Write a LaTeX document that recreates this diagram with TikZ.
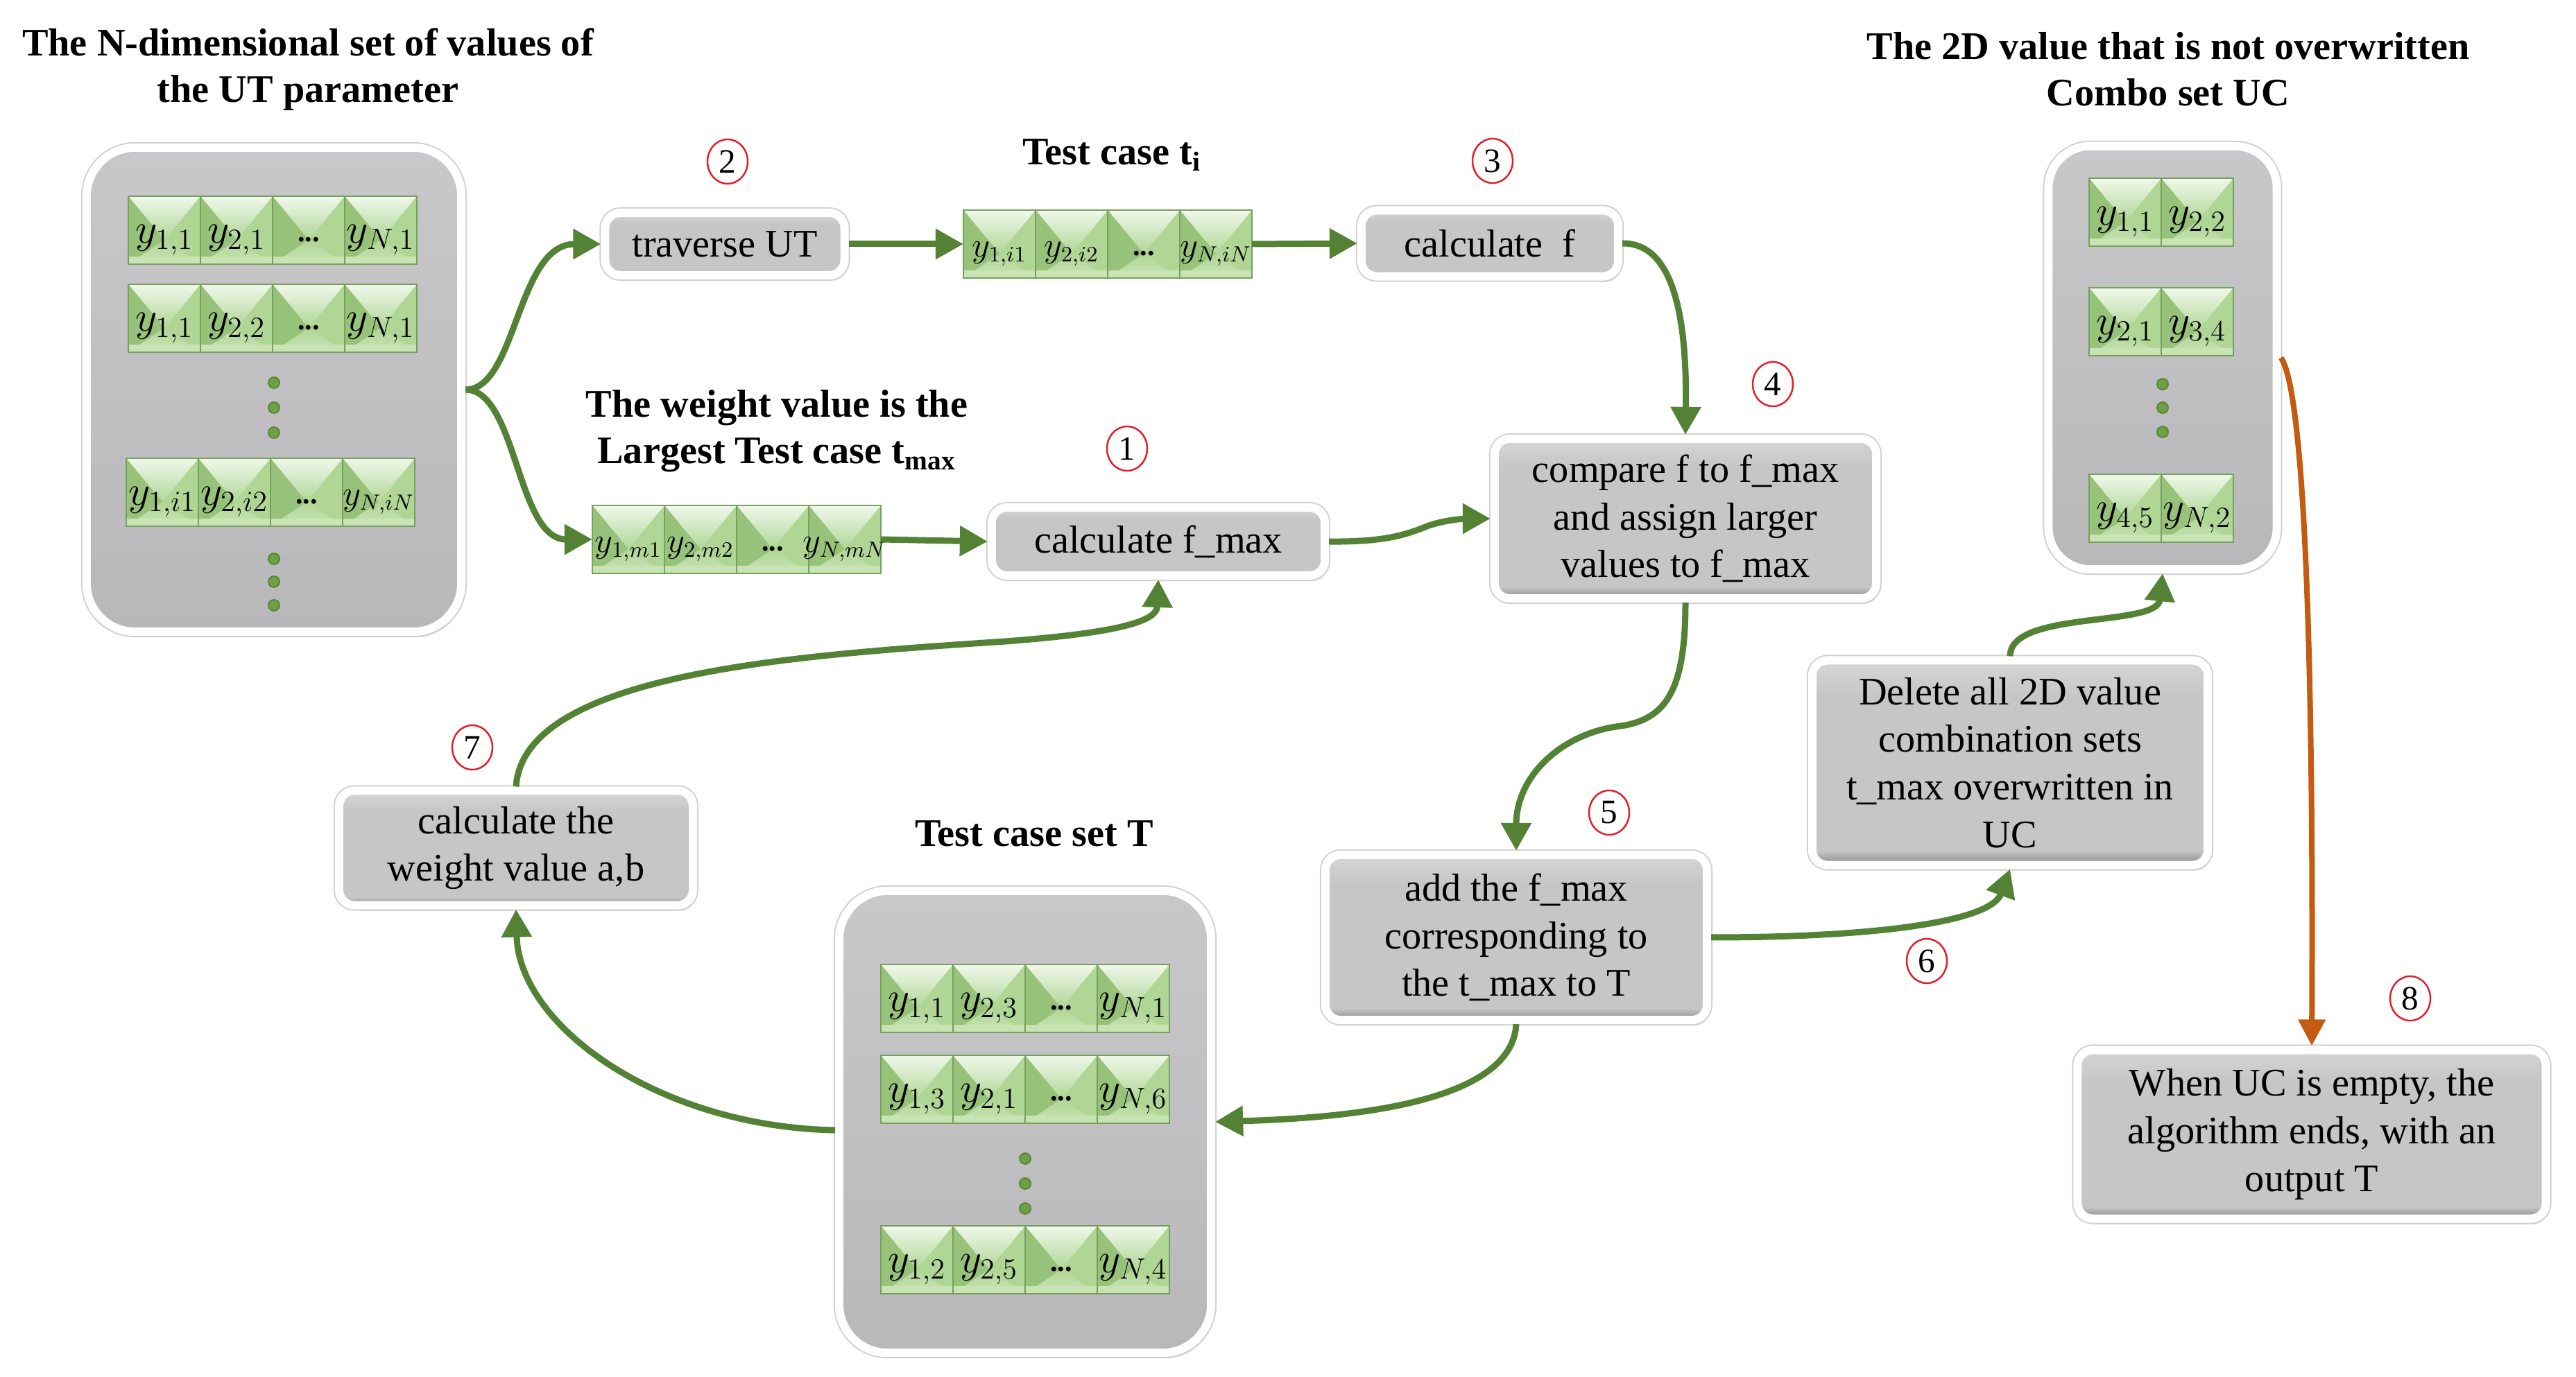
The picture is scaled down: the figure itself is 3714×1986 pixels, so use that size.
\documentclass[tikz,border=0pt]{standalone}
\usepackage{fontspec}
\setmainfont{Liberation Serif}
\usetikzlibrary{arrows.meta,shadows,shapes.geometric}
\definecolor{arrgreen}{RGB}{84,130,53}
\definecolor{arrorange}{RGB}{197,90,17}
\definecolor{boxtop}{RGB}{214,214,214}
\definecolor{boxmid}{RGB}{198,198,198}
\definecolor{boxbot}{RGB}{135,135,135}
\definecolor{conttop}{RGB}{200,200,202}
\definecolor{contbot}{RGB}{184,184,186}
\definecolor{cellhi}{RGB}{240,248,235}
\definecolor{cellmid}{RGB}{176,214,150}
\definecolor{cellleft}{RGB}{150,194,122}
\definecolor{cellbot}{RGB}{200,228,180}
\definecolor{cellline}{RGB}{118,160,92}
\definecolor{dotfill}{RGB}{112,160,70}
\definecolor{dotdraw}{RGB}{84,130,53}
\definecolor{numred}{RGB}{225,30,40}
\pgfdeclareverticalshading{boxshade}{100bp}{color(0bp)=(boxbot); color(25bp)=(boxbot); color(28.5bp)=(boxmid); color(66bp)=(boxmid); color(75bp)=(boxtop); color(100bp)=(boxtop)}
\newcommand{\mytitlefont}{\fontsize{16}{19}\selectfont\bfseries}
\newcommand{\myboxfont}{\fontsize{16}{19.5}\selectfont}
\newcommand{\mynumfont}{\fontsize{14}{14}\selectfont}
\newcommand{\mycellfont}{\fontsize{16.5}{16.5}\selectfont}
\newcommand{\smallcell}{\fontsize{13.5}{13.5}\selectfont}
\newcommand{\gcell}[4]{%
  \begin{scope}[shift={(#2,#3)}]
    \fill[cellmid] (0,-49) rectangle (104,49);
    \shade[top color=cellhi, bottom color=cellmid] (0,-49) -- (104,-49) -- (52,14) -- cycle;
    \fill[cellleft] (0,-49) -- (52,14) -- (0,49) -- cycle;
    \shade[top color=cellmid, bottom color=cellbot] (0,49) -- (52,14) -- (104,49) -- cycle;
    \fill[cellbot] (0,38) rectangle (104,49);
    \draw[cellline, line width=0.5pt] (0,-49) rectangle (104,49);
    \node[font=\mycellfont, inner sep=0pt] (#1) at (52,14) {#4};
  \end{scope}}
\newcommand{\gdots}{{\fontsize{12}{12}\selectfont\bfseries...}}
\tikzset{
  frame/.style={drop shadow={opacity=0.25,shadow xshift=0.04cm,shadow yshift=-0.08cm},
    preaction={draw=black!18,line width=0.16cm}, draw=white, line width=0.12cm},
  procbox/.style={frame, rectangle, rounded corners=0.22cm, shading=boxshade,
    align=center, inner sep=0pt, font=\myboxfont},
  container/.style={frame, rectangle, rounded corners=0.7cm, top color=conttop, bottom color=contbot},
  stepnum/.style={ellipse, draw=numred, line width=0.7pt, fill=white, minimum width=0.58cm,
    minimum height=0.64cm, inner sep=0pt, font=\mynumfont},
  titletext/.style={align=center, font=\mytitlefont, inner sep=0pt},
  garrow/.style={draw=arrgreen, line width=0.09cm, -{Triangle[length=0.4cm,width=0.42cm]}},
  oarrow/.style={draw=arrorange, line width=0.08cm, -{Triangle[length=0.38cm,width=0.38cm]}},
  gdot/.style={circle, fill=dotfill, draw=dotdraw, line width=0.5pt, minimum size=0.16cm, inner sep=0pt}
}
\begin{document}
\begin{tikzpicture}[x=0.01cm,y=-0.01cm]
\fill[white] (0,0) rectangle (3714,1986);
\useasboundingbox (0,0) rectangle (3714,1986);

% titles
\node[titletext] (tleft) at (444,100) {The N-dimensional set of values of\\the UT parameter};
\node[titletext] (tti) at (1603,224) {Test case t\textsubscript{i}};
\node[titletext] (tmax) at (1120,622) {The weight value is the\\Largest Test case t\textsubscript{max}};
\node[titletext] (tuc) at (3126,100) {The 2D value that is not overwritten\\Combo set UC};
\node[titletext] (tset) at (1491,1202) {Test case set T};

% containers
\node[container, minimum width=5.40cm, minimum height=6.98cm] (left) at (395,562) {};
\node[container, minimum width=3.29cm, minimum height=6.10cm, rounded corners=0.6cm] (uc) at (3118,516) {};
\node[container, minimum width=5.36cm, minimum height=6.66cm] (tcont) at (1478,1618) {};

% process boxes
\node[procbox, minimum width=3.45cm, minimum height=0.90cm] (trav) at (1045,352) {traverse UT};
\node[procbox, minimum width=3.70cm, minimum height=0.95cm] (calcf) at (2148,351) {calculate~ f};
\node[procbox, minimum width=4.80cm, minimum height=0.98cm] (calcfmax) at (1670,781) {calculate f\_max};
\node[procbox, minimum width=5.50cm, minimum height=2.30cm] (compare) at (2430,748) {compare f to f\_max\\and assign larger\\values to f\_max};
\node[procbox, minimum width=5.10cm, minimum height=1.65cm] (weight) at (744,1223) {calculate the\\weight value a,b};
\node[procbox, minimum width=5.50cm, minimum height=2.38cm] (add) at (2186,1352) {add the f\_max\\corresponding to\\the t\_max to T};
\node[procbox, minimum width=5.70cm, minimum height=2.95cm] (delete) at (2898,1100) {Delete all 2D value\\combination sets\\t\_max overwritten in\\UC};
\node[procbox, minimum width=6.75cm, minimum height=2.43cm] (when) at (3333,1636) {When UC is empty, the\\algorithm ends, with an\\output T};

% cells: left container
\gcell{la1}{185}{332}{$y_{1,1}$}\gcell{la2}{289}{332}{$y_{2,1}$}\gcell{la3}{393}{332}{\gdots}\gcell{la4}{497}{332}{$y_{N,1}$}
\gcell{lb1}{185}{459}{$y_{1,1}$}\gcell{lb2}{289}{459}{$y_{2,2}$}\gcell{lb3}{393}{459}{\gdots}\gcell{lb4}{497}{459}{$y_{N,1}$}
\gcell{lc1}{182}{710}{$y_{1,i1}$}\gcell{lc2}{286}{710}{$y_{2,i2}$}\gcell{lc3}{390}{710}{\gdots}\gcell{lc4}{494}{710}{\smallcell$y_{N,iN}$}
% test case ti
\gcell{ti1}{1389}{352}{\smallcell$y_{1,i1}$}\gcell{ti2}{1493}{352}{\smallcell$y_{2,i2}$}\gcell{ti3}{1597}{352}{\gdots}\gcell{ti4}{1701}{352}{\smallcell$y_{N,iN}$}
% t max
\gcell{tm1}{854}{778}{\smallcell$y_{1,m1}$}\gcell{tm2}{958}{778}{\smallcell$y_{2,m2}$}\gcell{tm3}{1062}{778}{\gdots}\gcell{tm4}{1166}{778}{\smallcell$y_{N,mN}$}
% test case set T
\gcell{ta1}{1270}{1440}{$y_{1,1}$}\gcell{ta2}{1374}{1440}{$y_{2,3}$}\gcell{ta3}{1478}{1440}{\gdots}\gcell{ta4}{1582}{1440}{$y_{N,1}$}
\gcell{tb1}{1270}{1571}{$y_{1,3}$}\gcell{tb2}{1374}{1571}{$y_{2,1}$}\gcell{tb3}{1478}{1571}{\gdots}\gcell{tb4}{1582}{1571}{$y_{N,6}$}
\gcell{tc1}{1270}{1817}{$y_{1,2}$}\gcell{tc2}{1374}{1817}{$y_{2,5}$}\gcell{tc3}{1478}{1817}{\gdots}\gcell{tc4}{1582}{1817}{$y_{N,4}$}
% UC
\gcell{ua1}{3012}{306}{$y_{1,1}$}\gcell{ua2}{3116}{306}{$y_{2,2}$}
\gcell{ub1}{3012}{464}{$y_{2,1}$}\gcell{ub2}{3116}{464}{$y_{3,4}$}
\gcell{uc1}{3012}{733}{$y_{4,5}$}\gcell{uc2}{3116}{733}{$y_{N,2}$}

% dots
\node[gdot] (d1) at (395,552) {};\node[gdot] (d2) at (395,588) {};\node[gdot] (d3) at (395,624) {};
\node[gdot] (d4) at (395,806) {};\node[gdot] (d5) at (395,839) {};\node[gdot] (d6) at (395,873) {};
\node[gdot] (d7) at (1478,1671) {};\node[gdot] (d8) at (1478,1707) {};\node[gdot] (d9) at (1478,1743) {};
\node[gdot] (d10) at (3118,554) {};\node[gdot] (d11) at (3118,588) {};\node[gdot] (d12) at (3118,623) {};

% row anchors
\coordinate (tiW) at (1389,352);
\coordinate (tiE) at (1805,352);
\coordinate (tmW) at (854,778);
\coordinate (tmE) at (1270,778);

% arrows
\draw[garrow] (left.east) .. controls (745,562) and (745,352) .. (trav.west);
\draw[garrow] (left.east) .. controls (745,562) and (745,778) .. (tmW);
\draw[garrow] (trav.east) -- (tiW);
\draw[garrow] (tiE) -- (calcf.west);
\draw[garrow] (calcf.east) .. controls (2420,350) and (2432,480) .. (compare.north);
\draw[garrow] (tmE) -- (calcfmax.west);
\draw[garrow] (calcfmax.east) .. controls (2000,782) and (2030,770) .. (2060,758) .. controls (2090,748) and (2120,748) .. (compare.west);
\draw[garrow] (compare.south) .. controls (2430,1000) and (2400,1040) .. (2330,1048) .. controls (2250,1060) and (2186,1120) .. (add.north);
\draw[garrow] (add.east) .. controls (2700,1352) and (2870,1330) .. (delete.south);
\draw[garrow] (delete.north) .. controls (2898,880) and (3110,905) .. (uc.south);
\draw[garrow] (add.south) .. controls (2180,1590) and (1950,1612) .. (tcont.east);
\draw[garrow] ([yshift=-0.12cm]tcont.west) .. controls (950,1625) and (748,1480) .. (weight.south);
\draw[garrow] (weight.north) .. controls (755,970) and (1150,945) .. (1450,925) .. controls (1620,912) and (1668,895) .. (calcfmax.south);
\draw[oarrow] (uc.east) .. controls (3320,560) and (3336,900) .. (when.north);

% step numbers
\node[stepnum] (n1) at (1625,647) {1};
\node[stepnum] (n2) at (1049,233) {2};
\node[stepnum] (n3) at (2152,232) {3};
\node[stepnum] (n4) at (2556,554) {4};
\node[stepnum] (n5) at (2320,1172) {5};
\node[stepnum] (n6) at (2778,1386) {6};
\node[stepnum] (n7) at (681,1078) {7};
\node[stepnum] (n8) at (3475,1440) {8};
\end{tikzpicture}
\end{document}
